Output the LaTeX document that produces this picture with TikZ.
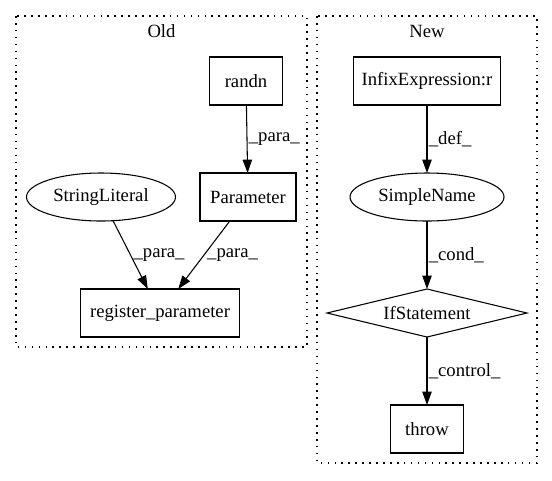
\documentclass[tikz,border=0pt]{standalone}
\usepackage{fontspec}
\setmainfont{Liberation Serif}
\usetikzlibrary{shapes.geometric,arrows.meta}
\begin{document}
\begin{tikzpicture}[x=0.75pt,y=-0.75pt,
  every node/.style={font=\fontsize{14pt}{16pt}\selectfont},
  boxnode/.style={draw,line width=0.8pt,rectangle,inner sep=0pt,outer sep=0pt,minimum height=36pt},
  ellnode/.style={draw,line width=0.8pt,ellipse,inner sep=0pt,outer sep=0pt,minimum height=36pt},
  dianode/.style={draw,line width=0.8pt,diamond,aspect=4,inner sep=0pt,outer sep=0pt,minimum height=36pt},
  cluster/.style={draw,line width=0.8pt,dash pattern=on 1.2pt off 4pt},
  edge/.style={draw,line width=0.8pt,-{Triangle[length=10pt,width=7pt]}},
  elabel/.style={anchor=west,inner sep=1pt}]
\useasboundingbox (0,0) rectangle (552,480);
% clusters
\draw[cluster] (16,16) rectangle (307,347);
\draw[cluster] (317,16) rectangle (537,463);
\node (oldlbl) at (161.5,31) {Old};
\node (newlbl) at (427,31) {New};
% Old nodes
\node[boxnode,minimum width=54.75pt] (randn) at (246,81) {randn};
\node[boxnode,minimum width=72pt] (param) at (248,197) {Parameter};
\node[ellnode,minimum width=111.75pt] (strlit) at (101,197) {StringLiteral};
\node[boxnode,minimum width=119.25pt] (reg) at (160,313) {register\_parameter};
% New nodes
\node[boxnode,minimum width=110.25pt] (infix) at (427,81) {InfixExpression:r};
\node[ellnode,minimum width=115.5pt] (simple) at (427,197) {SimpleName};
\node[dianode,minimum width=150pt] (ifst) at (427,313) {IfStatement};
\node[boxnode,minimum width=54.75pt] (throw) at (427,429) {throw};
% edges
\draw[edge] (randn) -- node[elabel,pos=0.5] {\_para\_} (param);
\draw[edge] (strlit) -- node[elabel,pos=0.5,xshift=1pt] {\_para\_} (reg);
\draw[edge] (param) -- node[elabel,pos=0.5,xshift=1pt] {\_para\_} (reg);
\draw[edge] (infix) -- node[elabel,pos=0.5] {\_def\_} (simple);
\draw[edge] (simple) -- node[elabel,pos=0.5] {\_cond\_} (ifst);
\draw[edge] (ifst) -- node[elabel,pos=0.5] {\_control\_} (throw);
\end{tikzpicture}
\end{document}
